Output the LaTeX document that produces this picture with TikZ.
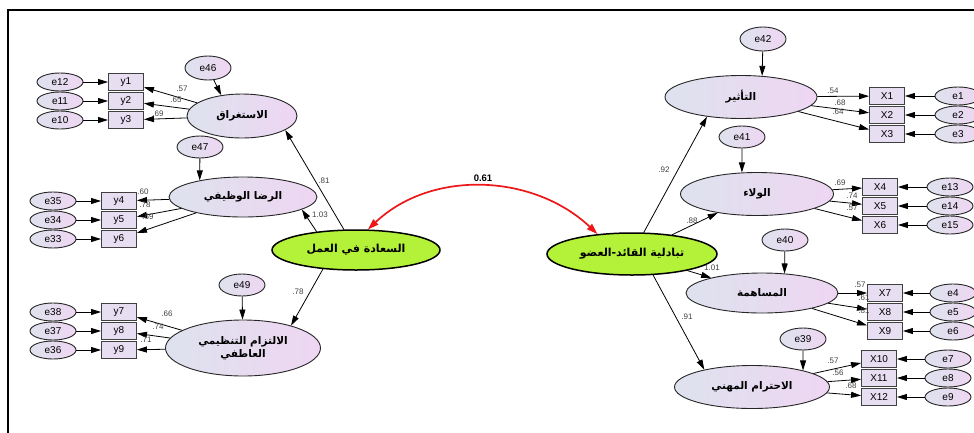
\documentclass[tikz,border=0pt]{standalone}
\usepackage{fontspec}
\setmainfont{Liberation Sans}
\newfontfamily\arabicfont[Script=Arabic]{DejaVu Sans}
\TeXXeTstate=1
\usetikzlibrary{shapes.geometric, arrows.meta, positioning}

\definecolor{latL}{RGB}{222,226,238}
\definecolor{latR}{RGB}{238,214,242}
\definecolor{obsfill}{RGB}{232,222,242}
\definecolor{coreG}{RGB}{180,242,58}
\definecolor{corrR}{RGB}{236,24,24}

\newcommand{\artxt}[1]{{\arabicfont\bfseries\beginR #1\endR}}

\tikzset{
  latent/.style={ellipse, draw=black!85, line width=0.9pt, left color=latL, right color=latR,
    inner sep=0pt, font=\fontsize{10.5}{13}\selectfont},
  core/.style={ellipse, draw=black, line width=1.5pt, fill=coreG,
    inner sep=0pt, font=\fontsize{11}{13}\selectfont},
  err/.style={ellipse, draw=black!85, line width=0.9pt, left color=latL, right color=latR,
    minimum width=46pt, minimum height=18pt, inner sep=0pt, font=\fontsize{10}{11}\selectfont},
  obs/.style={rectangle, draw=black!75, line width=0.9pt, fill=obsfill,
    minimum width=35pt, minimum height=17pt, inner sep=0pt, font=\fontsize{10}{11}\selectfont},
  arr/.style={-{Triangle[length=10pt,width=6pt]}, line width=0.8pt},
  corr/.style={{Triangle[length=11pt,width=7pt]}-{Triangle[length=11pt,width=7pt]}, line width=1.7pt, draw=corrR},
  coef/.style={font=\fontsize{8}{9}\selectfont, text=black!75, inner sep=0pt},
}

\begin{document}
\begin{tikzpicture}[x=1pt, y=-1pt]
\useasboundingbox (0,0) rectangle (974,432);
\clip (0,0) rectangle (974,432);
\draw[line width=1.5pt] (8,445) -- (8,10) -- (985,10);

% latent variables, left
\node[latent, minimum width=110pt, minimum height=44pt] (istighraq) at (242,116) {\artxt{الاستغراق}};
\node[latent, minimum width=148pt, minimum height=40pt] (ridha) at (243,197) {\artxt{الرضا الوظيفي}};
\node[latent, minimum width=155pt, minimum height=56pt, align=center] (iltizam) at (243,348) {\artxt{الالتزام التنظيمي}\\\artxt{العاطفي}};
\node[core, minimum width=168pt, minimum height=40pt] (saada) at (356,250) {\artxt{السعادة في العمل}};

% latent variables, right
\node[core, minimum width=170pt, minimum height=42pt] (tabadul) at (632,254) {\artxt{تبادلية القائد-العضو}};
\node[latent, minimum width=152pt, minimum height=43pt] (tathir) at (741,97) {\artxt{التأثير}};
\node[latent, minimum width=153pt, minimum height=43pt] (walaa) at (757,194) {\artxt{الولاء}};
\node[latent, minimum width=152pt, minimum height=40pt] (musahama) at (762,293) {\artxt{المساهمة}};
\node[latent, minimum width=155pt, minimum height=43pt] (ihtiram) at (752,387) {\artxt{الاحترام المهني}};

% residuals of the latents
\node[err, minimum height=24pt] (e46) at (208,68) {e46};
\node[err, minimum height=22pt] (e47) at (200,147) {e47};
\node[err, minimum height=22pt] (e49) at (242,285) {e49};
\node[err, minimum height=24pt] (e42) at (763,39) {e42};
\node[err, minimum height=22pt] (e41) at (742,137) {e41};
\node[err, minimum height=22pt] (e40) at (785,240) {e40};
\node[err, minimum height=22pt] (e39) at (803,339) {e39};

% indicators, left
\node[obs] (y1) at (126,82) {y1};
\node[obs] (y2) at (126,101) {y2};
\node[obs] (y3) at (126,120) {y3};
\node[obs] (y4) at (119,201) {y4};
\node[obs] (y5) at (119,220) {y5};
\node[obs] (y6) at (119,239) {y6};
\node[obs] (y7) at (119,312) {y7};
\node[obs] (y8) at (119,331) {y8};
\node[obs] (y9) at (119,350) {y9};
\node[err] (e12) at (60,82) {e12};
\node[err] (e11) at (60,101) {e11};
\node[err] (e10) at (60,120) {e10};
\node[err] (e35) at (53,201) {e35};
\node[err] (e34) at (53,220) {e34};
\node[err] (e33) at (53,239) {e33};
\node[err] (e38) at (53,312) {e38};
\node[err] (e37) at (53,331) {e37};
\node[err] (e36) at (53,350) {e36};

% indicators, right
\node[obs] (x1) at (887,96) {X1};
\node[obs] (x2) at (887,115) {X2};
\node[obs] (x3) at (887,134) {X3};
\node[obs] (x4) at (880,187) {X4};
\node[obs] (x5) at (880,206) {X5};
\node[obs] (x6) at (880,225) {X6};
\node[obs] (x7) at (885,293) {X7};
\node[obs] (x8) at (885,312) {X8};
\node[obs] (x9) at (885,331) {X9};
\node[obs] (x10) at (879,359) {X10};
\node[obs] (x11) at (879,378) {X11};
\node[obs] (x12) at (879,397) {X12};
\node[err] (e1) at (958,96) {e1};
\node[err] (e2) at (958,115) {e2};
\node[err] (e3) at (958,134) {e3};
\node[err] (e13) at (950,187) {e13};
\node[err] (e14) at (950,206) {e14};
\node[err] (e15) at (950,225) {e15};
\node[err] (e4) at (953,293) {e4};
\node[err] (e5) at (953,312) {e5};
\node[err] (e6) at (953,331) {e6};
\node[err] (e7) at (948,359) {e7};
\node[err] (e8) at (948,378) {e8};
\node[err] (e9) at (948,397) {e9};

% structural paths
\draw[arr] (saada) -- (istighraq.-18);
\draw[arr] (saada.155) -- (ridha.-12);
\draw[arr] (saada.210) -- (iltizam.25);
\draw[arr] (tabadul) -- (tathir.210);
\draw[arr] (tabadul) -- (walaa);
\draw[arr] (tabadul) -- (musahama);
\draw[arr] (tabadul.-45) -- (ihtiram.160);
\draw[corr] (saada.60) .. controls (432,169) and (534,174) .. (tabadul.150);

% residual arrows
\draw[arr] (e46) -- (istighraq.135);
\draw[arr] (e47) -- (ridha.159);
\draw[arr] (e49) -- (iltizam);
\draw[arr] (e42) -- (tathir.45);
\draw[arr] (e41) -- (walaa.125);
\draw[arr] (e40) -- (musahama.41);
\draw[arr] (e39) -- (ihtiram.18);

% loadings, left
\draw[arr] (istighraq) -- (y1);
\draw[arr] (istighraq) -- (y2);
\draw[arr] (istighraq) -- (y3);
\draw[arr] (ridha) -- (y4);
\draw[arr] (ridha) -- (y5);
\draw[arr] (ridha) -- (y6);
\draw[arr] (iltizam) -- (y7);
\draw[arr] (iltizam) -- (y8);
\draw[arr] (iltizam) -- (y9);
\draw[arr] (e12) -- (y1);
\draw[arr] (e11) -- (y2);
\draw[arr] (e10) -- (y3);
\draw[arr] (e35) -- (y4);
\draw[arr] (e34) -- (y5);
\draw[arr] (e33) -- (y6);
\draw[arr] (e38) -- (y7);
\draw[arr] (e37) -- (y8);
\draw[arr] (e36) -- (y9);

% loadings, right
\draw[arr] (tathir) -- (x1);
\draw[arr] (tathir) -- (x2);
\draw[arr] (tathir) -- (x3);
\draw[arr] (walaa) -- (x4);
\draw[arr] (walaa) -- (x5);
\draw[arr] (walaa) -- (x6);
\draw[arr] (musahama) -- (x7);
\draw[arr] (musahama) -- (x8);
\draw[arr] (musahama) -- (x9);
\draw[arr] (ihtiram) -- (x10);
\draw[arr] (ihtiram) -- (x11);
\draw[arr] (ihtiram) -- (x12);
\draw[arr] (e1) -- (x1);
\draw[arr] (e2) -- (x2);
\draw[arr] (e3) -- (x3);
\draw[arr] (e13) -- (x4);
\draw[arr] (e14) -- (x5);
\draw[arr] (e15) -- (x6);
\draw[arr] (e4) -- (x7);
\draw[arr] (e5) -- (x8);
\draw[arr] (e6) -- (x9);
\draw[arr] (e7) -- (x10);
\draw[arr] (e8) -- (x11);
\draw[arr] (e9) -- (x12);

% estimates
\node[coef] (c-y1) at (182,89) {.57};
\node[coef] (c-y2) at (176,100) {.65};
\node[coef] (c-y3) at (158,114) {.69};
\node[coef] (c-y4) at (143,192) {.60};
\node[coef] (c-y5) at (145,205) {.78};
\node[coef] (c-y6) at (148,217) {.69};
\node[coef] (c-y7) at (167,314) {.66};
\node[coef] (c-y8) at (158,327) {.74};
\node[coef] (c-y9) at (146,340) {.71};
\node[coef] (c-istighraq) at (324,181) {.81};
\node[coef] (c-ridha) at (320,215) {1.03};
\node[coef] (c-iltizam) at (298,292) {.78};
\node[coef, font=\bfseries\fontsize{9.5}{10}\selectfont, text=black] (c-corr) at (483,178) {0.61};
\node[coef] (c-x1) at (833,91) {.54};
\node[coef] (c-x2) at (840,103) {.68};
\node[coef] (c-x3) at (838,112) {.64};
\node[coef] (c-x4) at (840,183) {.69};
\node[coef] (c-x5) at (852,196) {.74};
\node[coef] (c-x6) at (852,208) {.57};
\node[coef] (c-x7) at (860,285) {.57};
\node[coef] (c-x8) at (864,298) {.61};
\node[coef] (c-x9) at (864,311) {.81};
\node[coef] (c-x10) at (833,361) {.57};
\node[coef] (c-x11) at (838,373) {.56};
\node[coef] (c-x12) at (851,386) {.68};
\node[coef] (c-tathir) at (664,170) {.92};
\node[coef] (c-walaa) at (692,221) {.88};
\node[coef] (c-musahama) at (712,268) {1.01};
\node[coef] (c-ihtiram) at (687,317) {.91};
\end{tikzpicture}
\end{document}
